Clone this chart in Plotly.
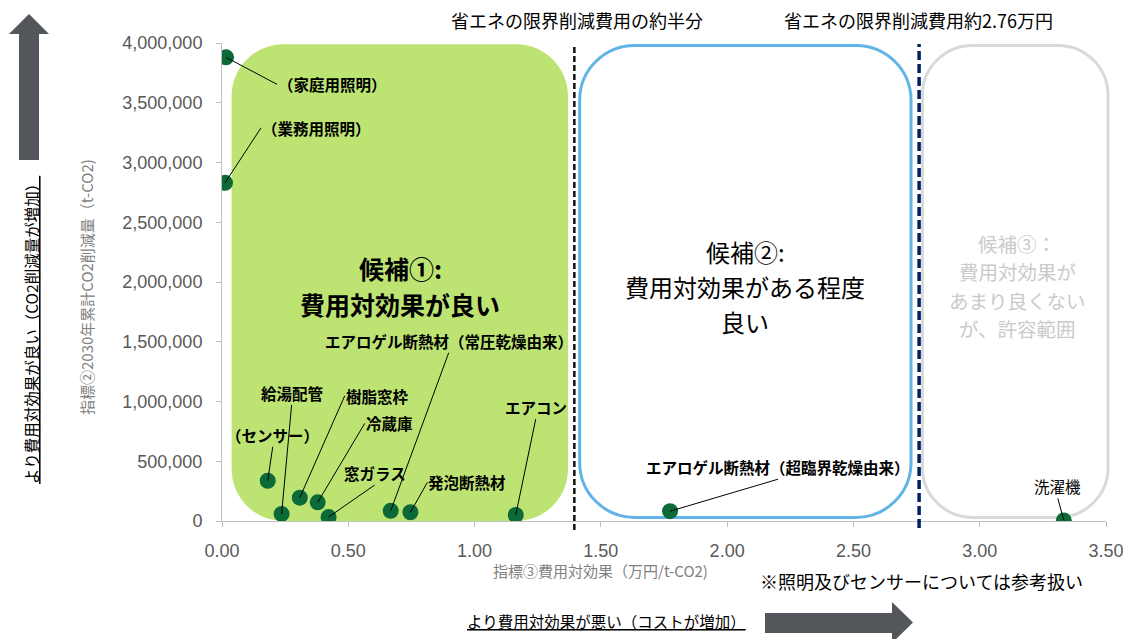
import plotly.graph_objects as go

# ---------------- data ----------------
measures = [
    "（家庭用照明）", "（業務用照明）", "（センサー）", "給湯配管", "樹脂窓枠", "冷蔵庫",
    "窓ガラス", "エアロゲル断熱材（常圧乾燥由来）", "発泡断熱材", "エアコン",
    "エアロゲル断熱材（超臨界乾燥由来）", "洗濯機",
]
cost_effect = [0.016, 0.012, 0.181, 0.236, 0.308, 0.379, 0.422, 0.668, 0.746, 1.163, 1.774, 3.333]
co2_reduction = [3880000, 2830000, 337000, 59000, 195000, 156000, 33000, 86000, 73000, 50000, 82000, 5000]

x_ticks = [0.0, 0.5, 1.0, 1.5, 2.0, 2.5, 3.0, 3.5]
y_ticks = [0, 500000, 1000000, 1500000, 2000000, 2500000, 3000000, 3500000, 4000000]

half_threshold = 1.395    # 省エネの限界削減費用の約半分
limit_threshold = 2.76    # 省エネの限界削減費用約2.76万円

# label placement (pixel offsets of the label from its point)
label_dx = [51, 36, 5, 10, 45, 47, 46, 58, 17, 20, 108, -6]
label_dy = [27, -55, -34, -109, -102, -79, -32, -158, -30, -96, -32, -22]
label_xanchor = ["left", "left", "center", "center", "left", "left", "center", "center", "left", "center", "center", "center"]
label_yanchor = ["middle", "middle", "bottom", "bottom", "middle", "middle", "bottom", "bottom", "middle", "bottom", "bottom", "bottom"]
label_bold = [True] * 11 + [False]

# ---------------- layout geometry ----------------
OFF = 8                      # default page margin around the plot div
WIDTH, HEIGHT = 1131 - OFF, 639 - OFF
PW, PH = 884, 478
L, T = 222 - OFF, 43 - OFF
R, B = WIDTH - L - PW, HEIGHT - T - PH
X_RANGE = [0, 3.5]
Y_RANGE = [0, 4000000]

CJK = "Noto Sans CJK JP"
LATIN = "Liberation Sans, Arial, Noto Sans CJK JP"


def px_x(v):
    """data x -> page pixel"""
    return OFF + L + (v - X_RANGE[0]) / (X_RANGE[1] - X_RANGE[0]) * PW


def px_y(v):
    return OFF + T + PH - (v - Y_RANGE[0]) / (Y_RANGE[1] - Y_RANGE[0]) * PH


def pap_x(p):
    """page pixel -> paper"""
    return (p - OFF - L) / PW


def pap_y(p):
    return (T + PH - (p - OFF)) / PH


def rounded_rect(x0, x1, y0, y1, r):
    """x/y in data units, r in pixels -> path in paper coords"""
    a, b = pap_x(px_x(x0)), pap_x(px_x(x1))
    c, d = pap_y(px_y(y0)), pap_y(px_y(y1))
    rx, ry = r / PW, r / PH
    k = 0.5523
    return (
        f"M {a+rx},{c} L {b-rx},{c} "
        f"C {b-rx+k*rx},{c} {b},{c+ry-k*ry} {b},{c+ry} "
        f"L {b},{d-ry} "
        f"C {b},{d-ry+k*ry} {b-rx+k*rx},{d} {b-rx},{d} "
        f"L {a+rx},{d} "
        f"C {a+rx-k*rx},{d} {a},{d-ry+k*ry} {a},{d-ry} "
        f"L {a},{c+ry} "
        f"C {a},{c+ry-k*ry} {a+rx-k*rx},{c} {a+rx},{c} Z"
    )


def px_path(points):
    return "M " + " L ".join(f"{pap_x(x)},{pap_y(y)}" for x, y in points) + " Z"


fig = go.Figure()
fig.add_trace(go.Scatter(
    x=cost_effect, y=co2_reduction, mode="markers",
    marker=dict(size=16, color="#0b6a37"),
    text=measures, hoverinfo="text", showlegend=False,
))

shapes = []
# candidate regions
shapes.append(dict(type="path", xref="paper", yref="paper", layer="below",
                   path=rounded_rect(0.038, 1.370, 0, 3990000, 52),
                   fillcolor="#bde473", line=dict(width=0)))
shapes.append(dict(type="path", xref="paper", yref="paper", layer="below",
                   path=rounded_rect(1.416, 2.728, 30000, 3980000, 55),
                   fillcolor="rgba(0,0,0,0)", line=dict(color="#63b4e6", width=3)))
shapes.append(dict(type="path", xref="paper", yref="paper", layer="below",
                   path=rounded_rect(2.773, 3.508, 30000, 3980000, 50),
                   fillcolor="rgba(0,0,0,0)", line=dict(color="#d9d9d9", width=3)))
# threshold lines
shapes.append(dict(type="line", xref="x", yref="paper", x0=half_threshold, x1=half_threshold,
                   y0=pap_y(530), y1=pap_y(44), layer="above",
                   line=dict(color="#111111", width=2.5, dash="6px,3px")))
shapes.append(dict(type="line", xref="x", yref="paper", x0=limit_threshold, x1=limit_threshold,
                   y0=pap_y(528), y1=pap_y(44), layer="above",
                   line=dict(color="#002060", width=3.5, dash="9px,4px")))
# big arrows
shapes.append(dict(type="path", xref="paper", yref="paper", layer="above",
                   path=px_path([(19, 160), (19, 34), (9, 34), (29, 14), (49, 34), (39, 34), (39, 160)]),
                   fillcolor="#53565a", line=dict(width=0)))
shapes.append(dict(type="path", xref="paper", yref="paper", layer="above",
                   path=px_path([(765, 613), (892, 613), (892, 602), (913, 622.5), (892, 643), (892, 633), (765, 633)]),
                   fillcolor="#53565a", line=dict(width=0)))

annotations = []
for name, xv, yv, dx, dy, xa, ya, bold in zip(measures, cost_effect, co2_reduction, label_dx, label_dy,
                                             label_xanchor, label_yanchor, label_bold):
    annotations.append(dict(
        x=xv, y=yv, xref="x", yref="y", ax=dx, ay=dy,
        text=f"<b>{name}</b>" if bold else name,
        showarrow=True, arrowhead=0, arrowwidth=1, arrowcolor="#000000", standoff=0,
        xanchor=xa, yanchor=ya, borderpad=0,
        font=dict(family=CJK, size=15.5, color="#000000"),
    ))


def text_ann(text, x, y, size, color="#000000", angle=0, **kw):
    d = dict(text=text, x=pap_x(x), y=pap_y(y), xref="paper", yref="paper", showarrow=False,
             font=dict(family=CJK, size=size, color=color), textangle=angle,
             xanchor="center", yanchor="middle")
    d.update(kw)
    annotations.append(d)


# region captions, one annotation per line
for line, yy in zip(["<b>候補①:</b>", "<b>費用対効果が良い</b>"], [268, 304]):
    text_ann(line, 400, yy, 25)
for line, yy in zip(["候補②:", "費用対効果がある程度", "良い"], [251, 286, 321]):
    text_ann(line, 745, yy, 24)
for line, yy in zip(["候補③：", "費用対効果が", "あまり良くない", "が、許容範囲"], [243, 271.5, 300, 328.5]):
    text_ann(line, 1017, yy, 19.5, color="#cacaca")

text_ann("省エネの限界削減費用の約半分", 577, 20, 18)
text_ann("省エネの限界削減費用約2.76万円", 918, 20, 18)
text_ann("※照明及びセンサーについては参考扱い", 921, 581, 18)
text_ann("<u>より費用対効果が悪い（コストが増加）</u>", 606, 621, 15.5)
text_ann("<u>より費用対効果が良い（CO2削減量が増加）</u>", 31, 330, 15.5, angle=-90)
# axis titles
text_ann("指標③費用対効果（万円/t-CO2)", 600, 570, 15, color="#7f7f7f")
text_ann("指標②2030年累計CO2削減量（t-CO2)", 86, 287, 15, color="#7f7f7f", angle=-90)

axis_common = dict(showgrid=False, zeroline=False, showline=True, linecolor="#bfbfbf", linewidth=1,
                   ticks="outside", ticklen=5, tickcolor="#bfbfbf",
                   tickfont=dict(family=LATIN, size=18, color="#595959"))

fig.update_layout(
    width=WIDTH, height=HEIGHT,
    margin=dict(l=L, r=R, t=T, b=B, autoexpand=False),
    paper_bgcolor="white", plot_bgcolor="white",
    font=dict(family=CJK),
    xaxis=dict(range=X_RANGE, tickvals=x_ticks, tickformat=".2f", ticklabelstandoff=8, **axis_common),
    yaxis=dict(range=Y_RANGE, tickvals=y_ticks, tickformat=",d", ticklabelstandoff=10, **axis_common),
    shapes=shapes, annotations=annotations, showlegend=False,
)

fig.write_html("out.html")
